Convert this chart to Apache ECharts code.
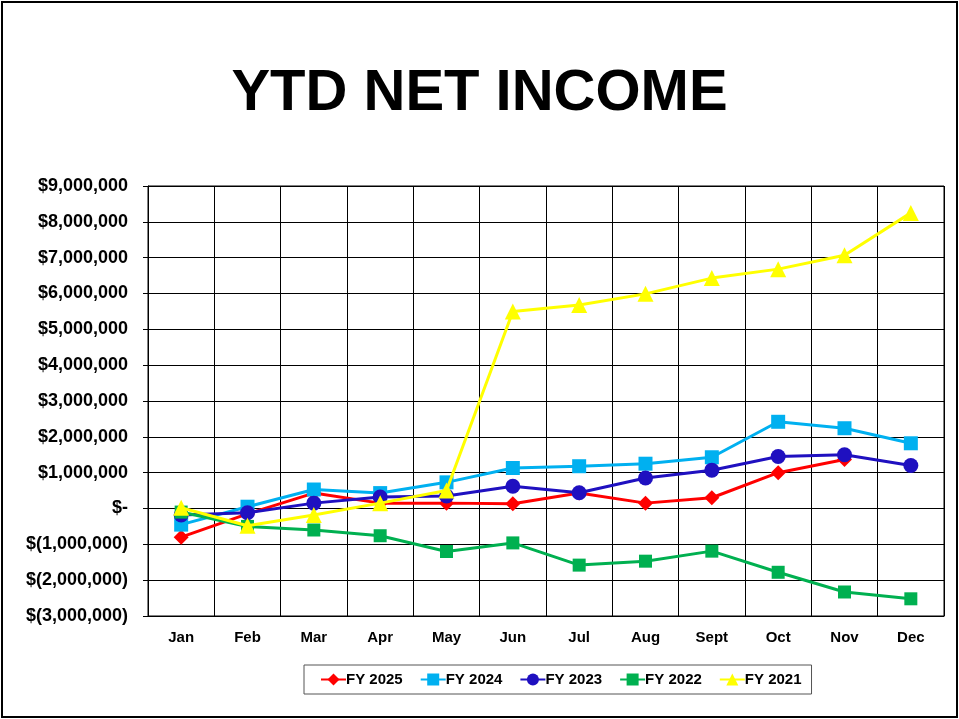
<!DOCTYPE html>
<html>
<head>
<meta charset="utf-8">
<script src="https://cdn.jsdelivr.net/npm/echarts@6/dist/echarts.min.js"></script>
<style>
  html, body { margin: 0; padding: 0; background: #fff; }
  #frame { position: absolute; left: 1px; top: 1px; width: 953px; height: 713px; border: 2px solid #000; }
  #display { position: absolute; left: 0; top: 0; width: 959px; height: 719px; }
</style>
</head>
<body>
<div id="frame"></div>
<div id="display"></div>
<script>
var months = ['Jan', 'Feb', 'Mar', 'Apr', 'May', 'Jun', 'Jul', 'Aug', 'Sept', 'Oct', 'Nov', 'Dec'];

var fy2025 = [-800000, -150000, 430000, 150000, 150000, 130000, 430000, 150000, 300000, 1000000, 1370000, null];
var fy2024 = [-450000, 50000, 530000, 430000, 730000, 1130000, 1180000, 1250000, 1430000, 2420000, 2240000, 1820000];
var fy2023 = [-180000, -120000, 150000, 320000, 350000, 620000, 440000, 850000, 1070000, 1450000, 1500000, 1200000];
var fy2022 = [-100000, -500000, -600000, -760000, -1200000, -960000, -1580000, -1470000, -1190000, -1780000, -2330000, -2520000];
var fy2021 = [20000, -480000, -180000, 150000, 500000, 5500000, 5680000, 5990000, 6430000, 6680000, 7070000, 8250000];

var seriesDefs = [
    {name: 'FY 2025', data: fy2025, color: '#ff0000', symbol: 'diamond', size: 15},
    {name: 'FY 2024', data: fy2024, color: '#00b0f0', symbol: 'rect', size: 14},
    {name: 'FY 2023', data: fy2023, color: '#1f10c0', symbol: 'circle', size: 15},
    {name: 'FY 2022', data: fy2022, color: '#00b050', symbol: 'rect', size: 13},
    {name: 'FY 2021', data: fy2021, color: '#ffff00', symbol: 'triangle', size: 16}
];

function money(v) {
    if (v == 0) return '$-';
    var s = Math.abs(v).toString().replace(/\B(?=(\d{3})+(?!\d))/g, ',');
    return v < 0 ? '$(' + s + ')' : '$' + s;
}

var series = [];
for (var i = 0; i < seriesDefs.length; i++) {
    var d = seriesDefs[i];
    series.push({
        name: d.name,
        type: 'line',
        data: d.data,
        symbol: d.symbol,
        symbolSize: d.size,
        showAllSymbol: true,
        connectNulls: false,
        z: 2 + i,
        lineStyle: {color: d.color, width: 3},
        itemStyle: {color: d.color},
        emphasis: {disabled: true}
    });
}

var option = {
    animation: false,
    title: {
        text: 'YTD NET INCOME',
        left: 'center',
        top: 60,
        textStyle: {fontFamily: 'Liberation Sans', fontWeight: 'bold', fontSize: 58, color: '#000'}
    },
    legend: {
        left: 304,
        top: 665,
        padding: [7, 10, 7, 16],
        itemWidth: 25,
        itemHeight: 15,
        itemGap: 17,
        borderColor: '#555',
        borderWidth: 1,
        textStyle: {fontFamily: 'Liberation Sans', fontWeight: 'bold', fontSize: 15, color: '#000', padding: [0, 0, 0, -5]},
        data: seriesDefs.map(function (d) { return d.name; })
    },
    grid: {left: 148, right: 15, top: 186, bottom: 103, show: true, borderColor: '#000', borderWidth: 1},
    xAxis: {
        type: 'category',
        data: months,
        boundaryGap: true,
        axisLine: {show: true, onZero: false, lineStyle: {color: '#000'}},
        axisTick: {show: false},
        splitLine: {show: true, lineStyle: {color: '#000', width: 1}},
        axisLabel: {fontFamily: 'Liberation Sans', fontWeight: 'bold', fontSize: 15, color: '#000', margin: 14, interval: 0}
    },
    yAxis: {
        type: 'value',
        min: -3000000,
        max: 9000000,
        interval: 1000000,
        axisLine: {show: true, lineStyle: {color: '#000'}},
        axisTick: {show: true, length: 5, lineStyle: {color: '#000'}},
        splitLine: {show: true, lineStyle: {color: '#000', width: 1}},
        axisLabel: {fontFamily: 'Liberation Sans', fontWeight: 'bold', fontSize: 18, color: '#000', margin: 20, formatter: money}
    },
    series: series
};

var myChart = echarts.init(document.getElementById('display'), null, {renderer: 'canvas'});
myChart.setOption(option);
</script>
</body>
</html>
